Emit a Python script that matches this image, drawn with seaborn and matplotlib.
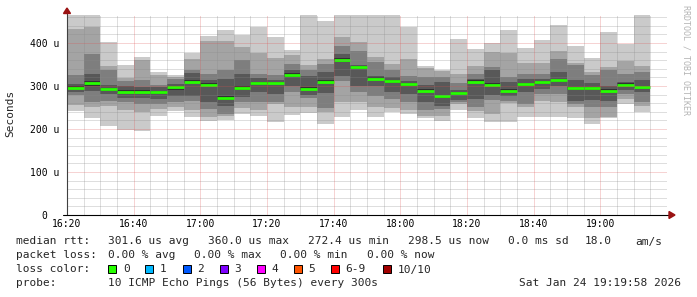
import numpy as np
import pandas as pd
import matplotlib
matplotlib.use("Agg")
import matplotlib.pyplot as plt
from matplotlib.patches import Rectangle, Polygon
from matplotlib.lines import Line2D
import seaborn as sns

# ---------------- data ----------------
start_time = "16:20"
step_min = 5
time_labels = ["16:20", "16:40", "17:00", "17:20", "17:40", "18:00", "18:20", "18:40", "19:00"]
y_labels = ["0  ", "100 u", "200 u", "300 u", "400 u"]

# sorted ping rtts per 5-minute step (microseconds), ping1 = fastest
ping10 = [480, 480, 403, 348, 368, 333, 326, 377, 417, 431, 419, 438, 415, 384, 480, 452, 480, 480,
          480, 480, 436, 347, 337, 409, 386, 399, 429, 388, 407, 442, 392, 366, 425, 398, 480]
ping9 = [432, 437, 347, 318, 360, 326, 321, 363, 404, 405, 391, 376, 364, 371, 349, 363, 415, 402,
         367, 351, 363, 342, 335, 328, 347, 378, 376, 353, 353, 381, 353, 333, 345, 357, 347]
ping8 = [325, 374, 338, 312, 315, 303, 316, 337, 328, 336, 360, 328, 325, 351, 337, 351, 392, 382,
         355, 336, 324, 320, 321, 308, 328, 343, 320, 328, 328, 363, 348, 325, 336, 328, 333]
ping7 = [305, 328, 303, 300, 298, 297, 305, 330, 315, 316, 328, 318, 315, 336, 323, 333, 374, 348,
         324, 320, 312, 303, 309, 290, 316, 336, 309, 316, 316, 332, 315, 306, 300, 310, 314]
ping6 = [299, 311, 295, 290, 290, 289, 301, 313, 306, 276, 299, 309, 310, 329, 298, 313, 364, 346,
         320, 314, 308, 292, 280, 286, 313, 306, 292, 308, 312, 316, 298, 298, 292, 306, 301]
median = [296, 307, 292, 287, 287, 285, 297, 310, 303, 272.4, 295, 306, 307, 326, 294, 310, 360.0, 343,
          317, 311, 305, 289, 277, 283, 310, 303, 289, 305, 309, 313, 295, 295, 289, 303, 298.5]
ping5 = [292, 300, 288, 284, 284, 281, 290, 306, 300, 268, 290, 303, 304, 320, 291, 306, 357, 340,
         313, 307, 301, 286, 273, 280, 306, 300, 285, 301, 305, 309, 291, 291, 285, 299, 296]
ping4 = [285, 288, 281, 273, 272, 270, 276, 276, 262, 254, 275, 285, 282, 300, 280, 283, 324, 301,
         301, 285, 281, 262, 254, 268, 270, 280, 277, 285, 293, 299, 266, 268, 266, 290, 285]
ping3 = [278, 262, 266, 262, 258, 258, 262, 266, 247, 235, 262, 262, 262, 285, 273, 248, 311, 285,
         277, 270, 262, 243, 246, 262, 250, 267, 266, 258, 281, 282, 258, 250, 250, 281, 262]
ping2 = [256, 250, 254, 245, 240, 246, 250, 243, 227, 230, 249, 243, 258, 250, 250, 240, 262, 262,
         252, 249, 243, 231, 231, 258, 242, 235, 260, 250, 266, 262, 250, 226, 229, 270, 254]
ping1 = [242, 226, 208, 198, 195, 231, 242, 227, 218, 221, 235, 231, 216, 233, 238, 212, 227, 245,
         228, 239, 235, 226, 218, 243, 225, 216, 216, 229, 229, 227, 225, 212, 225, 257, 239]

legend_row1 = ["median rtt:", "301.6 us avg", "360.0 us max", "272.4 us min", "298.5 us now",
               "0.0 ms sd", "18.0", "am/s"]
legend_row2 = ["packet loss:", "0.00 % avg", "0.00 % max", "0.00 % min", "0.00 % now"]
loss_labels = ["0", "1", "2", "3", "4", "5", "6-9", "10/10"]
loss_colors = ["#26ff00", "#00b8ff", "#0059ff", "#7e00ff", "#ff00ff", "#ff5500", "#ff0000", "#a10000"]
probe_text = "10 ICMP Echo Pings (56 Bytes) every 300s"
date_text = "Sat Jan 24 19:19:58 2026"

# ---------------- style ----------------
sns.set_theme(style="white")
plt.rcParams['font.family'] = ['DejaVu Sans Mono', 'DejaVu Sans']

W, H = 697, 297
fig = plt.figure(figsize=(W / 100, H / 100), dpi=100)
fig.patch.set_facecolor("white")
L, R, T, B = 67, 667, 15, 215
ax = fig.add_axes([L / W, 1 - B / H, (R - L) / W, (B - T) / H])
ax.set_facecolor("white")


def px(x, y):
    return (x / W, 1 - y / H)


n = len(median)
t0 = pd.Timestamp("2026-01-24 " + start_time)
times = pd.date_range(t0, periods=n, freq=f"{step_min}min")
x_start = ((times - t0).total_seconds() / 60).to_numpy()
centers = x_start + step_min / 2

layers = [(ping10, "#cacaca"), (ping9, "#a4a4a4"), (ping8, "#7e7e7e"), (ping7, "#585858"),
          (ping6, "#323232"), (ping5, "#585858"), (ping4, "#7e7e7e"), (ping3, "#a4a4a4"),
          (ping2, "#cacaca"), (ping1, "#ffffff")]
for vals, col in layers:
    df = pd.DataFrame({"t": centers, "v": vals})
    sns.barplot(data=df, x="t", y="v", native_scale=True, width=1.0, color=col,
                saturation=1, errorbar=None, linewidth=0, edgecolor=col, ax=ax, zorder=1)

ax.hlines(median, x_start, x_start + step_min, colors="#26ff00", linewidth=2.0, zorder=3)

# grid (drawn over the smoke like rrdtool), 1px dots
gkw = dict(lw=0.72, ls=(0, (1, 1)), zorder=4, snap=True)
for yv in range(20, 465, 20):
    if yv % 100:
        ax.axhline(yv, color="#8a8a8a", alpha=0.55, **gkw)
for xv in range(5, 181, 5):
    if xv % 20:
        ax.axvline(xv, color="#8a8a8a", alpha=0.55, **gkw)
for yv in range(100, 465, 100):
    ax.axhline(yv, color="#de5050", alpha=0.5, **gkw)
for xv in range(20, 181, 20):
    ax.axvline(xv, color="#de5050", alpha=0.5, **gkw)

ax.set_xlim(0, 180)
ax.set_ylim(0, 465)
for s in ax.spines.values():
    s.set_visible(False)
ax.set_xlabel("")
ax.set_ylabel("")
ax.set_xticks(np.arange(len(time_labels)) * 20)
ax.set_xticklabels(time_labels)
ax.set_yticks(np.arange(len(y_labels)) * 100)
ax.set_yticklabels(y_labels)
ax.tick_params(axis="x", length=0, pad=3, labelsize=7, labelcolor="black")
ax.tick_params(axis="y", length=0, pad=5.5, labelsize=7, labelcolor="black")
ax.grid(False)

# axis lines and arrows
fig.add_artist(Line2D(*zip(px(67, 215), px(67, 12)), color="#404040", lw=0.8, zorder=5))
fig.add_artist(Line2D(*zip(px(63, 215), px(670, 215)), color="black", lw=0.8, zorder=5))
fig.add_artist(Polygon([px(63.5, 13.5), px(70.5, 13.5), px(67, 8)], closed=True,
                       transform=fig.transFigure, color="#9a1212", zorder=6))
fig.add_artist(Polygon([px(669, 211.5), px(669, 218.5), px(675, 215)], closed=True,
                       transform=fig.transFigure, color="#9a1212", zorder=6))

# labels
fig.text(*px(10.5, 113.5), "Seconds", rotation=90, ha="center", va="center", fontsize=8)
fig.text(*px(686, 5), "RRDTOOL / TOBI OETIKER", rotation=270, ha="center", va="top",
         fontsize=6, color="#b4b4b4")

fs = 8
row_y = [241.5, 255.5, 269.5, 283.5]
for txt, xx in zip(legend_row1, [16, 108, 208, 308, 408, 508, 585, 635]):
    fig.text(*px(xx, row_y[0]), txt, ha="left", va="center", fontsize=fs)
for txt, xx in zip(legend_row2, [16, 108, 194, 280, 367]):
    fig.text(*px(xx, row_y[1]), txt, ha="left", va="center", fontsize=fs)
fig.text(*px(16, row_y[2]), "loss color:", ha="left", va="center", fontsize=fs)
box_x = [108, 145, 182.5, 219.5, 256.5, 293.5, 330.5, 382.5]
for lab, col, bx in zip(loss_labels, loss_colors, box_x):
    fig.add_artist(Rectangle(px(bx, 273), 8 / W, 8 / H, transform=fig.transFigure,
                             facecolor=col, edgecolor="black", lw=0.7, zorder=5))
    fig.text(*px(bx + 15, row_y[2]), lab, ha="left", va="center", fontsize=fs)
fig.text(*px(16, row_y[3]), "probe:", ha="left", va="center", fontsize=fs)
fig.text(*px(108, row_y[3]), probe_text, ha="left", va="center", fontsize=fs)
fig.text(*px(681, row_y[3]), date_text, ha="right", va="center", fontsize=fs)

fig.savefig("out.png", dpi=100)
